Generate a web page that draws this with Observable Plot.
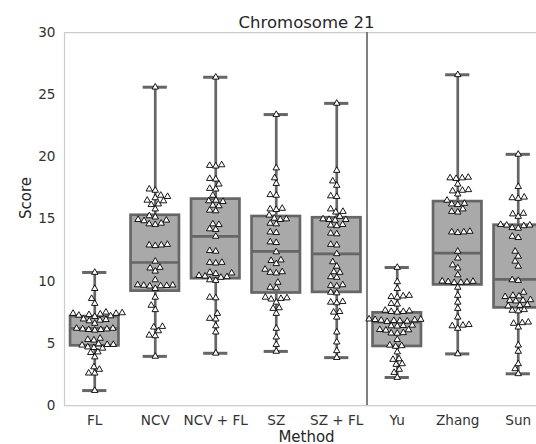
<!DOCTYPE html>
<html><head><meta charset="utf-8">
<script src="https://cdn.jsdelivr.net/npm/d3@7"></script>
<script src="https://cdn.jsdelivr.net/npm/@observablehq/plot@0.6"></script>
<style>
html,body{margin:0;padding:0;background:#fff;overflow:hidden;}
#chart svg{overflow:hidden;max-width:none;}
</style></head><body><div id="chart"></div>
<script>
const methods = ["FL","NCV","NCV + FL","SZ","SZ + FL","Yu","Zhang","Sun"];
const title = "Chromosome 21";
const xLabel = "Method";
const yLabel = "Score";
const yTicks = [0,5,10,15,20,25,30];

const fl = [10.7,9.4,8.6,8.2,7.5,7.45,7.4,7.4,7.35,7.3,7.25,7.2,7.15,6.95,6.9,6.85,6.8,6.6,6.2,6.2,6.15,6.15,6.1,6.1,6.05,5.4,5.3,5.25,4.95,4.9,4.9,4.85,4.7,4.65,4.6,4.3,4.25,3.9,3.1,2.9,2.6,2.6,1.2];
const ncv = [25.6,17.4,17.3,16.9,16.8,16.7,16.5,16.45,16.2,16.15,15.8,15.25,15.15,14.95,14.9,14.85,14.65,14.6,14.55,12.95,12.9,12.9,12.85,11.6,11.1,11.05,10.8,10.1,9.7,9.68,9.66,9.64,9.62,9.6,9.4,8.7,8.05,7.7,6.35,6.3,6.0,5.65,5.6,3.95];
const ncvFl = [26.4,19.35,19.3,19.25,18.25,18.2,17.8,17.45,17.4,16.9,16.5,16.45,16.4,16.1,16.05,15.7,15.65,14.6,14.55,14.2,14.15,13.6,12.45,12.4,11.5,11.5,11.45,10.7,10.65,10.6,10.45,10.4,10.35,10.3,10.1,10.05,8.7,8.65,7.4,7.0,6.95,6.4,5.9,4.2];
const sz = [23.4,19.1,18.3,17.85,16.95,16.9,15.85,15.8,15.75,15.3,15.05,15.0,14.95,14.65,14.6,13.95,13.9,13.15,13.1,12.35,11.7,11.65,11.4,10.95,10.75,10.7,10.65,9.9,9.5,9.45,8.7,8.65,8.6,8.55,8.3,7.85,7.8,7.4,6.2,5.5,4.9,4.35];
const szFl = [24.3,18.9,18.05,17.7,16.85,16.8,15.8,15.6,15.55,15.2,15.0,14.95,14.95,14.9,14.55,14.5,14.45,13.85,13.8,12.95,12.9,12.2,11.55,11.2,10.75,10.7,10.35,10.3,9.7,9.65,9.6,9.1,9.05,8.35,8.3,8.25,7.55,7.5,7.1,5.9,5.1,4.4,3.85];
const yu = [11.1,9.95,9.4,8.85,8.8,8.75,8.7,8.2,8.15,7.65,7.6,7.55,7.55,7.5,6.95,6.92,6.9,6.88,6.85,6.82,6.8,6.78,6.75,6.45,6.42,6.4,6.38,6.1,6.08,6.05,5.85,5.82,5.8,5.3,4.85,4.8,4.75,4.3,3.75,3.7,3.35,3.3,2.9,2.65,2.25];
const zhang = [26.6,18.35,18.3,18.3,18.25,17.8,17.35,17.3,17.25,17.0,16.5,16.25,16.2,16.15,15.8,15.6,15.55,14.0,13.95,13.95,13.9,12.4,11.85,11.3,11.05,10.5,10.0,9.98,9.95,9.92,9.9,9.88,9.5,8.85,8.3,7.8,7.1,6.5,6.45,6.4,6.2,4.15];
const sun = [20.2,17.6,16.75,16.7,16.65,15.45,15.4,15.2,14.55,14.5,14.5,14.45,14.3,14.25,13.6,13.5,12.4,12.0,11.6,11.2,10.1,10.05,9.1,8.85,8.8,8.75,8.5,8.45,8.45,8.4,8.1,8.05,8.0,7.7,7.65,7.6,6.7,6.65,6.6,6.3,4.85,4.35,3.35,2.95,2.55];

const q1s     = [4.8, 9.2, 10.2, 9.05, 9.1, 4.75, 9.7, 7.85];
const medians = [6.2, 11.5, 13.6, 12.4, 12.2, 6.7, 12.25, 10.15];
const q3s     = [7.15, 15.3, 16.6, 15.2, 15.1, 7.45, 16.4, 14.5];

const series = [fl, ncv, ncvFl, sz, szFl, yu, zhang, sun];

// layout
const W = 536, H = 444, ML = 64, MT = 32, MB = 39;
const band = 60.5;
const xDomain = [-0.5, methods.length - 0.5];
const xRange = [ML, ML + methods.length * band];
const yDomain = [0, 30];
const yRange = [H - MB, MT];
const yPix = d3.scaleLinear(yDomain, yRange);
const R = 2.9;

// seaborn-style beeswarm in pixel space
function swarm(vals) {
  const pts = vals.map(v => ({v, y: -yPix(v), x: 0})).sort((a, b) => a.y - b.y);
  const placed = [];
  for (const p of pts) {
    if (placed.length === 0) { placed.push(p); continue; }
    const neighbors = [];
    for (let k = placed.length - 1; k >= 0; k--) {
      if (p.y - placed[k].y < 2 * R) neighbors.push(placed[k]); else break;
    }
    const cands = [0];
    let leftFirst = true;
    for (const n of neighbors) {
      const dy = p.y - n.y;
      const dx = Math.sqrt(Math.max(4 * R * R - dy * dy, 0)) * 1.05;
      if (leftFirst) cands.push(n.x - dx, n.x + dx); else cands.push(n.x + dx, n.x - dx);
      leftFirst = !leftFirst;
    }
    const order = cands.map((c, k) => [Math.abs(c), k, c]).sort((a, b) => a[0] - b[0] || a[1] - b[1]);
    let chosen = order[0][2];
    for (const [, , c] of order) {
      if (neighbors.every(n => (n.x - c) ** 2 + (n.y - p.y) ** 2 >= 4 * R * R - 1e-9)) { chosen = c; break; }
    }
    p.x = chosen;
    placed.push(p);
  }
  return placed;
}

const points = series.flatMap((vals, i) => swarm(vals).map(p => ({x: i + p.x / band, y: p.v})));
const stats = methods.map((m, i) => ({i, q1: q1s[i], med: medians[i], q3: q3s[i], lo: d3.min(series[i]), hi: d3.max(series[i])}));

const lineGray = "#666666";
const boxFill = "#a9a9a9";
const LW = 2.7;

const plot = Plot.plot({
  width: W, height: H,
  marginLeft: ML, marginTop: MT, marginBottom: MB, marginRight: 0,
  style: {fontFamily: "'DejaVu Sans', sans-serif", fontSize: "13.6px", color: "#333", background: "#fff"},
  x: {domain: xDomain, range: xRange},
  y: {domain: yDomain, range: yRange},
  marks: [
    Plot.ruleX([xDomain[0]], {stroke: "#cccccc", strokeWidth: 1.25}),
    Plot.ruleY(yDomain, {x1: xDomain[0], x2: xDomain[1], stroke: "#cccccc", strokeWidth: 1.25}),
    Plot.ruleX([4.5], {stroke: "#606060", strokeWidth: 1.6}),
    Plot.axisY(yTicks, {tickSize: 0, tickPadding: 9, label: null, fontSize: 13.6}),
    Plot.axisX(d3.range(methods.length), {tickSize: 0, tickPadding: 10, tickFormat: i => methods[i], label: null, fontSize: 13.6}),
    Plot.ruleX(stats, {x: "i", y1: "lo", y2: "q1", stroke: lineGray, strokeWidth: LW}),
    Plot.ruleX(stats, {x: "i", y1: "q3", y2: "hi", stroke: lineGray, strokeWidth: LW}),
    Plot.rect(stats, {x1: d => d.i - 0.4, x2: d => d.i + 0.4, y1: "q1", y2: "q3", fill: boxFill, stroke: lineGray, strokeWidth: LW}),
    Plot.ruleY(stats, {y: "med", x1: d => d.i - 0.4, x2: d => d.i + 0.4, stroke: lineGray, strokeWidth: LW}),
    Plot.ruleY(stats, {y: "lo", x1: d => d.i - 0.2, x2: d => d.i + 0.2, stroke: lineGray, strokeWidth: 3}),
    Plot.ruleY(stats, {y: "hi", x1: d => d.i - 0.2, x2: d => d.i + 0.2, stroke: lineGray, strokeWidth: 3}),
    Plot.dot(points, {x: "x", y: "y", symbol: "triangle", r: 2.4, fill: "white", stroke: "black", strokeWidth: 0.9}),
    Plot.text([title], {x: (xDomain[0] + xDomain[1]) / 2, frameAnchor: "top", lineAnchor: "bottom", dy: -5, fontSize: 16.5, fill: "#262626"}),
    Plot.text([xLabel], {x: (xDomain[0] + xDomain[1]) / 2, frameAnchor: "bottom", lineAnchor: "bottom", dy: 36, fontSize: 15, fill: "#262626"}),
    Plot.text([yLabel], {frameAnchor: "left", rotate: -90, dx: -38, fontSize: 15, fill: "#262626"})
  ]
});
document.getElementById("chart").appendChild(plot);
</script></body></html>
